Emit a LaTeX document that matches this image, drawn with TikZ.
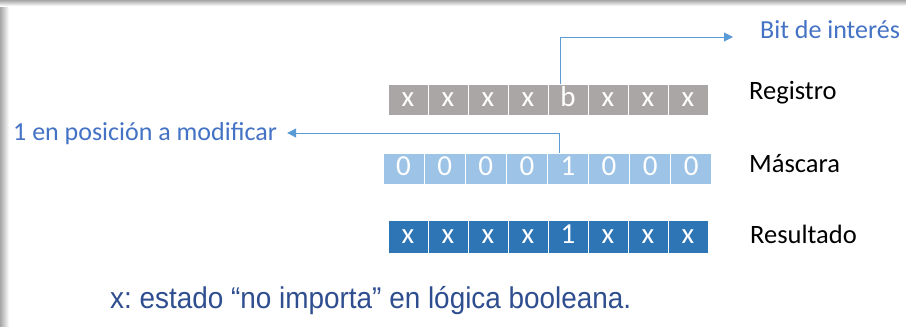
\documentclass[tikz,border=0pt]{standalone}
\usepackage{fontspec}
\setmainfont{Carlito}
\newfontfamily\notefont{Liberation Sans}
\usetikzlibrary{positioning,calc,arrows.meta}

\definecolor{regcol}{HTML}{AAA6A5}
\definecolor{maskcol}{HTML}{9DC3E6}
\definecolor{rescol}{HTML}{2E75B6}
\definecolor{labelblue}{HTML}{4472C4}
\definecolor{linecol}{HTML}{5B9BD5}
\definecolor{notecol}{HTML}{2F4E8F}

\tikzset{
  cell/.style={draw=white, line width=1pt, text=white, minimum width=40pt, minimum height=31pt, inner sep=0pt, text height=17.4pt, text depth=3.9pt, font=\fontsize{29}{29}\selectfont},
  rowlabel/.style={anchor=west, inner sep=0pt, font=\fontsize{26.5}{26.5}\selectfont},
  bluelabel/.style={anchor=west, inner sep=0pt, text=labelblue, font=\fontsize{26}{26}\selectfont},
  pointer/.style={draw=linecol, line width=1pt, -{Triangle[length=9pt, width=9pt]}}
}

\begin{document}
\frenchspacing
\begin{tikzpicture}[x=1pt, y=-1pt]
\useasboundingbox (0,0) rectangle (906,327);
% window shadow
\shade[left color=black!35, right color=white] (0,0) rectangle (9,327);
\shade[top color=black!35, bottom color=white] (0,0) rectangle (906,6);
\fill[white] (9,6) rectangle (906,327);

% registers
\foreach \v [count=\i] in {x,x,x,x,b,x,x,x}
  \node (r\i) [cell, fill=regcol] at (388+40*\i-20, 99.5) {\v};
\foreach \v [count=\i] in {0,0,0,0,1,0,0,0}
  \node (m\i) [cell, fill=maskcol, minimum width=41.1pt] at (383+41.1*\i-20.55, 168.5) {\v};
\foreach \v [count=\i] in {x,x,x,x,1,x,x,x}
  \node (s\i) [cell, fill=rescol, minimum height=33pt] at (388+40*\i-20, 236.5) {\v};

% row labels
\node (reglabel) [rowlabel] at (749, 93) {Registro};
\node (masklabel) [rowlabel] at (749, 164) {Máscara};
\node (reslabel) [rowlabel] at (750, 234) {Resultado};

% pointers
\node (bit) [bluelabel] at (760, 30) {Bit de interés};
\node (pos) [bluelabel] at (13, 134) {1 en posición a modificar};
\draw[pointer] ([xshift=-8pt]r5.north) |- ([xshift=-27pt, yshift=-7pt]bit.west);
\draw[pointer] ([xshift=-8pt]m5.north) |- ([xshift=10pt, yshift=1pt]pos.east);

% note
\node (note) [anchor=west, inner sep=0pt, text=notecol, font=\notefont\fontsize{30}{30}\selectfont, xscale=0.93] at (110, 301) {x: estado “no importa” en lógica booleana.};
\end{tikzpicture}
\end{document}
